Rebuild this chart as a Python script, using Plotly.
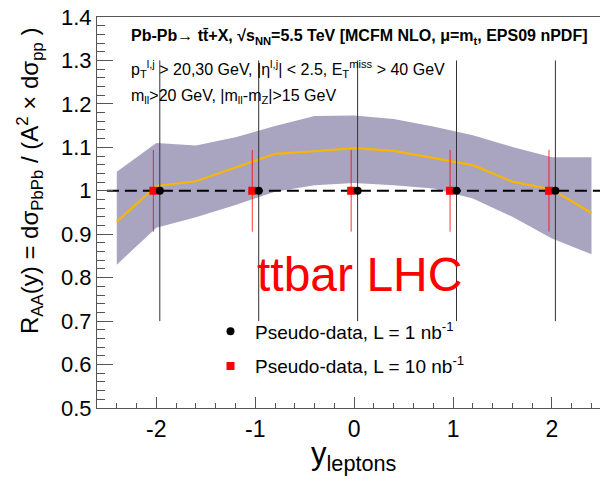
import plotly.graph_objects as go

# ---------------- data ----------------
Y_NODES = [-2.4, -2.0, -1.6, -1.2, -0.8, -0.4, 0.0, 0.4, 0.8, 1.2, 1.6, 2.0, 2.4]
RAA_CENTRAL = [0.929, 1.011, 1.022, 1.054, 1.085, 1.091, 1.098, 1.092, 1.076, 1.059, 1.021, 1.003, 0.949]
RAA_UPPER = [1.044, 1.110, 1.104, 1.123, 1.149, 1.172, 1.173, 1.165, 1.148, 1.128, 1.101, 1.077, 1.077]
RAA_LOWER = [0.830, 0.915, 0.939, 0.967, 0.998, 1.013, 1.018, 1.013, 1.005, 0.982, 0.940, 0.890, 0.854]

PD_BINS = [-2, -1, 0, 1, 2]
PD1_SHIFT = 0.035
PD10_SHIFT = -0.03
PD1_VAL = [1.0, 1.0, 1.0, 1.0, 1.0]
PD1_ERR = [0.30, 0.30, 0.30, 0.30, 0.30]
PD10_VAL = [1.0, 1.0, 1.0, 1.0, 1.0]
PD10_ERR = [0.094, 0.094, 0.094, 0.094, 0.094]

REF_X = [-2.5, 2.5]
REF_Y = [1.0, 1.0]

X_TICKS = [-2, -1, 0, 1, 2]
X_TICK_TEXT = ["-2", "-1", "0", "1", "2"]
Y_TICKS = [0.5, 0.6, 0.7, 0.8, 0.9, 1.0, 1.1, 1.2, 1.3, 1.4]
Y_TICK_TEXT = ["0.5", "0.6", "0.7", "0.8", "0.9", "1", "1.1", "1.2", "1.3", "1.4"]

LEG1 = "Pseudo-data, L = 1 nb<sup>-1</sup>"
LEG10 = "Pseudo-data, L = 10 nb<sup>-1</sup>"

# ---------------- figure ----------------
W, H = 600, 481
ML, MR, MT, MB = 97, 0, 17, 73
PW, PH = W - ML - MR, H - MT - MB

def px_x(p):
    return (p - ML) / PW

def px_y(p):
    return (H - MB - p) / PH

FONT = "Liberation Sans, Arial, Helvetica, sans-serif"

fig = go.Figure()

# uncertainty band
fig.add_trace(go.Scatter(
    x=Y_NODES + Y_NODES[::-1],
    y=RAA_UPPER + RAA_LOWER[::-1],
    fill="toself", fillcolor="rgb(169,165,193)",
    line=dict(width=0), mode="lines", showlegend=False, hoverinfo="skip"))

# central curve
fig.add_trace(go.Scatter(
    x=Y_NODES, y=RAA_CENTRAL, mode="lines",
    line=dict(color="rgb(248,182,0)", width=2.2), showlegend=False))

# reference line
fig.add_trace(go.Scatter(
    x=REF_X, y=REF_Y, mode="lines",
    line=dict(color="black", width=2, dash="12px,6px"), showlegend=False))

# pseudo-data 10 nb^-1
fig.add_trace(go.Scatter(
    x=[b + PD10_SHIFT for b in PD_BINS], y=PD10_VAL, mode="markers",
    marker=dict(symbol="square", size=8, color="red"),
    error_y=dict(type="data", array=PD10_ERR, color="rgba(255,0,0,0.8)", thickness=1, width=0),
    name=LEG10, legendgroup="b", legendrank=2))

# pseudo-data 1 nb^-1
fig.add_trace(go.Scatter(
    x=[b + PD1_SHIFT for b in PD_BINS], y=PD1_VAL, mode="markers",
    marker=dict(symbol="circle", size=8, color="black"),
    error_y=dict(type="data", array=PD1_ERR, color="#333333", thickness=1, width=0),
    name=LEG1, legendgroup="a", legendrank=1))

ann = []
ann.append(dict(
    text="<b>Pb-Pb\u2192 tt\u0304+X, \u221as<sub>NN</sub>=5.5 TeV [MCFM NLO, \u03bc=m<sub>t</sub>, EPS09 nPDF]</b>",
    xref="paper", yref="paper", x=px_x(129), y=px_y(37), xanchor="left", yanchor="middle",
    showarrow=False, font=dict(size=16, color="black", family=FONT)))
ann.append(dict(
    text="p<sub>T</sub><sup>l,j</sup> &gt; 20,30 GeV, |\u03b7<sup>l,j</sup>| &lt; 2.5, E<sub>T</sub><sup>miss</sup> &gt; 40 GeV",
    xref="paper", yref="paper", x=px_x(129), y=px_y(69), xanchor="left", yanchor="middle",
    showarrow=False, font=dict(size=16, color="black", family=FONT)))
ann.append(dict(
    text="m<sub>ll</sub>&gt;20 GeV, |m<sub>ll</sub>-m<sub>Z</sub>|&gt;15 GeV",
    xref="paper", yref="paper", x=px_x(129), y=px_y(96), xanchor="left", yanchor="middle",
    showarrow=False, font=dict(size=16, color="black", family=FONT)))
ann.append(dict(
    text="ttbar LHC", xref="paper", yref="paper", x=px_x(359), y=px_y(274),
    xanchor="center", yanchor="middle", showarrow=False,
    font=dict(size=48, color="red", family=FONT)))
ann.append(dict(
    text="R<sub>AA</sub>(y) = d\u03c3<sub>PbPb</sub> / (A<sup>2</sup> \u00d7 d\u03c3<sub>pp</sub> )",
    xref="paper", yref="paper", x=px_x(30), y=px_y(181), textangle=-90,
    xanchor="center", yanchor="middle", showarrow=False,
    font=dict(size=24, color="black", family=FONT)))
ann.append(dict(
    text="y<sub>leptons</sub>", xref="paper", yref="paper", x=px_x(354), y=px_y(456),
    xanchor="center", yanchor="middle", showarrow=False,
    font=dict(size=31, color="black", family=FONT)))

fig.update_layout(
    width=W, height=H,
    margin=dict(l=ML, r=MR, t=MT, b=MB, pad=0),
    paper_bgcolor="white", plot_bgcolor="white",
    font=dict(family=FONT, color="black"),
    annotations=ann,
    showlegend=True,
    legend=dict(x=px_x(206), y=px_y(312.5), xanchor="left", yanchor="top",
                bgcolor="rgba(0,0,0,0)", font=dict(size=19, family=FONT),
                tracegroupgap=7, itemwidth=39),
    xaxis=dict(range=[-2.6, 2.486], tickvals=X_TICKS, ticktext=X_TICK_TEXT,
               ticks="inside", ticklen=11, tickcolor="#555", tickwidth=1,
               minor=dict(dtick=0.2, tick0=0, ticks="inside", ticklen=5, tickcolor="#555"),
               showline=True, linecolor="#555", linewidth=1, mirror=True,
               showgrid=False, zeroline=False,
               tickfont=dict(size=23, family=FONT)),
    yaxis=dict(range=[0.5, 1.4], tickvals=Y_TICKS, ticktext=Y_TICK_TEXT,
               ticks="inside", ticklen=16, tickcolor="#555", tickwidth=1,
               minor=dict(dtick=0.02, tick0=0.5, ticks="inside", ticklen=8, tickcolor="#555"),
               showline=True, linecolor="#555", linewidth=1, mirror=False,
               showgrid=False, zeroline=False,
               tickfont=dict(size=22, family=FONT)),
)

fig.write_html("out.html")
